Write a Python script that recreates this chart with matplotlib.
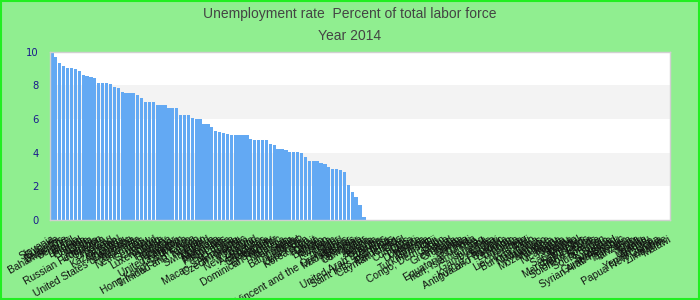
import numpy as np
import matplotlib
matplotlib.use('Agg')
import matplotlib.pyplot as plt
from matplotlib import font_manager
from matplotlib.patches import Rectangle

# Unemployment rate 2014, sorted high to low (countries without a value come last)
data_names = [
    "Slovenia", "Bulgaria", "Barbados", "Bahamas, The", "Belgium", "Brazil", "Estonia", "Finland", "Canada", "Chile",
    "Austria", "Lithuania", "Russian Federation", "Sweden", "Uruguay", "Ireland", "Kazakhstan", "Israel", "Argentina", "Denmark",
    "United States of America", "Australia", "Colombia", "Netherlands", "Peru", "Germany", "Iceland", "Luxembourg", "Malta", "Hungary",
    "Romania", "Ecuador", "Panama", "United Kingdom", "Costa Rica", "Mexico", "Hong Kong SAR, China", "Trinidad and Tobago", "Norway", "Japan",
    "Switzerland", "Moldova", "Mongolia", "Indonesia", "Philippines", "Sri Lanka", "China", "Macao SAR, China", "Singapore", "Czech Republic",
    "Vietnam", "Bolivia", "New Zealand", "Azerbaijan", "Honduras", "Guatemala", "Paraguay", "El Salvador", "Dominican Republic", "Malaysia",
    "Pakistan", "India", "Bangladesh", "Nepal", "Lao PDR", "Uzbekistan", "Korea, Rep.", "Kuwait", "Oman", "Bahrain",
    "Bhutan", "Rwanda", "Benin", "Niger", "Thailand", "Saint Vincent and the Grenadines", "Madagascar", "Belarus", "Myanmar", "Cambodia",
    "Qatar",
]
rates = [
    9.9, 9.7, 9.35, 9.17, 9.05, 9.05, 9.0, 8.87, 8.63, 8.57,
    8.51, 8.46, 8.16, 8.16, 8.16, 8.1, 7.92, 7.86, 7.62, 7.56,
    7.56, 7.56, 7.45, 7.27, 7.03, 7.03, 7.03, 6.83, 6.83, 6.83,
    6.65, 6.65, 6.65, 6.24, 6.24, 6.24, 6.08, 6.0, 6.0, 5.7,
    5.7, 5.54, 5.29, 5.23, 5.17, 5.11, 5.05, 5.05, 5.05, 5.05,
    5.05, 4.81, 4.75, 4.75, 4.75, 4.75, 4.51, 4.46, 4.22, 4.22,
    4.16, 4.04, 4.04, 4.04, 3.98, 3.74, 3.5, 3.5, 3.5, 3.39,
    3.33, 3.15, 3.03, 3.03, 2.97, 2.85, 2.08, 1.66, 1.37, 0.89,
    0.18,
]
no_data_names = [
    "Algeria", "Angola", "Armenia", "Aruba", "United Arab Emirates", "Bermuda", "Saint Kitts and Nevis", "Cameroon", "Cayman Islands", "Chad",
    "Comoros", "Cuba", "Djibouti", "Dominica", "Eritrea", "Ethiopia", "Turkmenistan", "Fiji", "Congo, Dem. Rep.", "Gabon",
    "Ghana", "Greenland", "Grenada", "Guam", "Guinea", "Guyana", "Haiti", "Equatorial Guinea", "Iran, Islamic Rep.", "Iraq",
    "Jamaica", "Gambia, The", "Kenya", "Kiribati", "Kyrgyz Republic", "Antigua and Barbuda", "Lebanon", "Lesotho", "Liberia", "Libya",
    "Liechtenstein", "Mali", "Burkina Faso", "Mauritania", "Mauritius", "Monaco", "Mozambique", "Namibia", "Nauru", "Nicaragua",
    "Nigeria", "Palau", "Samoa", "San Marino", "Senegal", "Seychelles", "Marshall Islands", "Sierra Leone", "Solomon Islands", "Somalia",
    "South Sudan", "Sudan", "Suriname", "Swaziland", "Guinea-Bissau", "Syrian Arab Republic", "Tajikistan", "Tanzania", "Togo", "Tonga",
    "Tuvalu", "Uganda", "Vanuatu", "Yemen, Rep.", "Papua New Guinea", "Zambia", "Zimbabwe", "Malawi",
]
y_ticks = [0, 2, 4, 6, 8, 10]
title_1 = "Unemployment rate  Percent of total labor force"
title_2 = "Year 2014"

names = data_names + no_data_names
n = len(names)

# narrow font for the title if there is one
installed = set(f.name for f in font_manager.fontManager.ttflist)
if 'Liberation Sans Narrow' in installed:
    title_font, title_size = 'Liberation Sans Narrow', 12
else:
    title_font, title_size = 'Liberation Sans', 10

fig = plt.figure(figsize=(7, 3), dpi=100, facecolor='#90ee90')
ax = fig.add_axes([50 / 700, 80 / 300, 620 / 700, 168.3 / 300])
ax.set_facecolor('white')

# alternating grid bands
for lo in [2, 6]:
    ax.axhspan(lo, lo + 2, color='#f3f3f3', zorder=0, lw=0)

x = np.arange(len(rates))
ax.bar(x, rates, width=0.84, color='#63a9f3', zorder=2)

ax.set_xlim(-0.5, n - 0.5)
ax.set_ylim(0, 10)
ax.set_yticks(y_ticks)
ax.set_yticklabels([str(v) for v in y_ticks], color='#1a1a8c', fontsize=7.2,
                   family='DejaVu Sans')
ax.set_xticks(np.arange(n))
ax.set_xticklabels(names, rotation=30, ha='right', rotation_mode='anchor',
                   fontsize=7.4, family='Liberation Sans', color='#111111')
ax.tick_params(axis='both', length=0)
ax.tick_params(axis='y', pad=8)
ax.tick_params(axis='x', pad=10)

for s in ax.spines.values():
    s.set_color('#d0d0d0')
    s.set_linewidth(1)

fig.text(0.5, 1 - 14 / 300, title_1, ha='center', va='center',
         fontsize=title_size, family=title_font, color='#444444')
fig.text(0.5, 1 - 36 / 300, title_2, ha='center', va='center',
         fontsize=title_size, family=title_font, color='#444444')

# bright green frame round the figure
fig.patches.append(Rectangle((0.001, 0.002), 0.998, 0.996, transform=fig.transFigure,
                             fill=False, edgecolor='#22ee22', lw=1.5))

fig.savefig('out.png', dpi=100, facecolor=fig.get_facecolor())
